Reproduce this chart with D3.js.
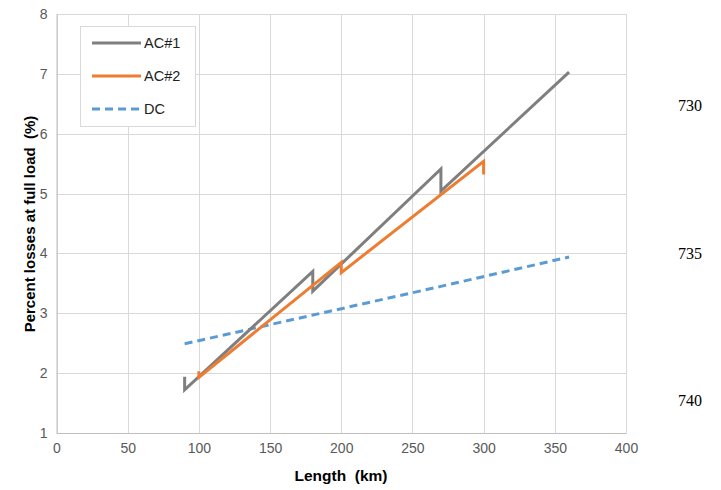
<!DOCTYPE html>
<html><head><meta charset="utf-8">
<script src="https://cdn.jsdelivr.net/npm/d3@7"></script>
<style>body{margin:0;background:#fff;}svg{display:block;}</style>
</head><body>
<script>
const xTicks = [0,50,100,150,200,250,300,350,400];
const yTicks = [1,2,3,4,5,6,7,8];
const seriesNames = ["AC#1","AC#2","DC"];
const ac1Len = [90,90,180,180,270,270,360];
const ac1Val = [1.94,1.72,3.70,3.37,5.41,5.04,7.03];
const ac2Len = [100,100,200,200,300,300];
const ac2Val = [2.03,1.93,3.85,3.68,5.54,5.32];
const dcLen = [90,180,270,360];
const dcVal = [2.49,2.97,3.45,3.94];
const sideLabels = ["730","735","740"];
const sideY = [730,735,740];

const W=721,H=490;
const svg=d3.select("body").append("svg").attr("width",W).attr("height",H);
const x=d3.scaleLinear().domain([0,400]).range([56.5,626]);
const y=d3.scaleLinear().domain([1,8]).range([433,14]);
const font="'Liberation Sans', Arial, sans-serif";

// grid
svg.append("g").selectAll("line").data(xTicks).join("line")
  .attr("x1",d=>Math.round(x(d))+0.5).attr("x2",d=>Math.round(x(d))+0.5)
  .attr("y1",y(8)).attr("y2",y(1)).attr("stroke","#d9d9d9").attr("stroke-width",1);
svg.append("g").selectAll("line").data(yTicks).join("line")
  .attr("y1",d=>Math.round(y(d))+0.5).attr("y2",d=>Math.round(y(d))+0.5)
  .attr("x1",x(0)).attr("x2",x(400)).attr("stroke","#d9d9d9").attr("stroke-width",1);

// axes (labels only)
const xa=svg.append("g").attr("transform",`translate(0,${y(1)})`)
  .call(d3.axisBottom(x).tickValues(xTicks).tickFormat(d3.format("d")).tickSize(0).tickPadding(10));
xa.select(".domain").attr("stroke","#bfbfbf");
xa.selectAll("text").attr("font-family",font).attr("font-size",14).attr("fill","#595959");
const ya=svg.append("g").attr("transform",`translate(${x(0)},0)`)
  .call(d3.axisLeft(y).tickValues(yTicks).tickFormat(d3.format("d")).tickSize(0).tickPadding(9));
ya.select(".domain").attr("stroke","#bfbfbf");
ya.selectAll("text").attr("font-family",font).attr("font-size",14).attr("fill","#595959");

// titles
svg.append("text").attr("x",341).attr("y",481).attr("text-anchor","middle")
  .attr("font-family",font).attr("font-size",15.5).attr("font-weight","bold").attr("fill","#000")
  .style("white-space","pre").text("Length  (km)");
svg.append("text").attr("transform","translate(35,224) rotate(-90)").attr("text-anchor","middle")
  .attr("font-family",font).attr("font-size",15).attr("font-weight","bold").attr("fill","#000")
  .style("white-space","pre").text("Percent losses at full load  (%)");

const line=d3.line().x(d=>x(d[0])).y(d=>y(d[1]));
const styles=[
  {c:"#7f7f7f",dash:null},
  {c:"#ed7d31",dash:null},
  {c:"#5b9bd5",dash:"8,5"}];
const data=[d3.zip(ac1Len,ac1Val),d3.zip(ac2Len,ac2Val),d3.zip(dcLen,dcVal)];
[2,0,1].forEach(i=>{
  svg.append("path").datum(data[i]).attr("d",line).attr("fill","none")
    .attr("stroke",styles[i].c).attr("stroke-width",3).attr("stroke-linejoin","miter")
    .attr("stroke-dasharray",styles[i].dash);
});

// legend
const lg=svg.append("g");
lg.append("rect").attr("x",80.5).attr("y",26.5).attr("width",115).attr("height",100)
  .attr("fill","#fff").attr("stroke","#d9d9d9");
seriesNames.forEach((n,i)=>{
  const yy=43+i*33;
  lg.append("line").attr("x1",92).attr("x2",141).attr("y1",yy).attr("y2",yy)
    .attr("stroke",styles[i].c).attr("stroke-width",3).attr("stroke-dasharray",styles[i].dash?"8,5":null);
  lg.append("text").attr("x",144).attr("y",yy+5).attr("font-family",font).attr("font-size",14.5)
    .attr("fill","#222").text(n);
});

// side labels
const ys=d3.scaleLinear().domain([730,740]).range([105,400]);
svg.append("g").selectAll("text").data(sideLabels).join("text")
  .attr("x",678).attr("y",(d,i)=>ys(sideY[i])+6)
  .attr("font-family","'Liberation Serif', 'Times New Roman', serif").attr("font-size",16)
  .attr("fill","#000").text(d=>d);
</script>
</body></html>
